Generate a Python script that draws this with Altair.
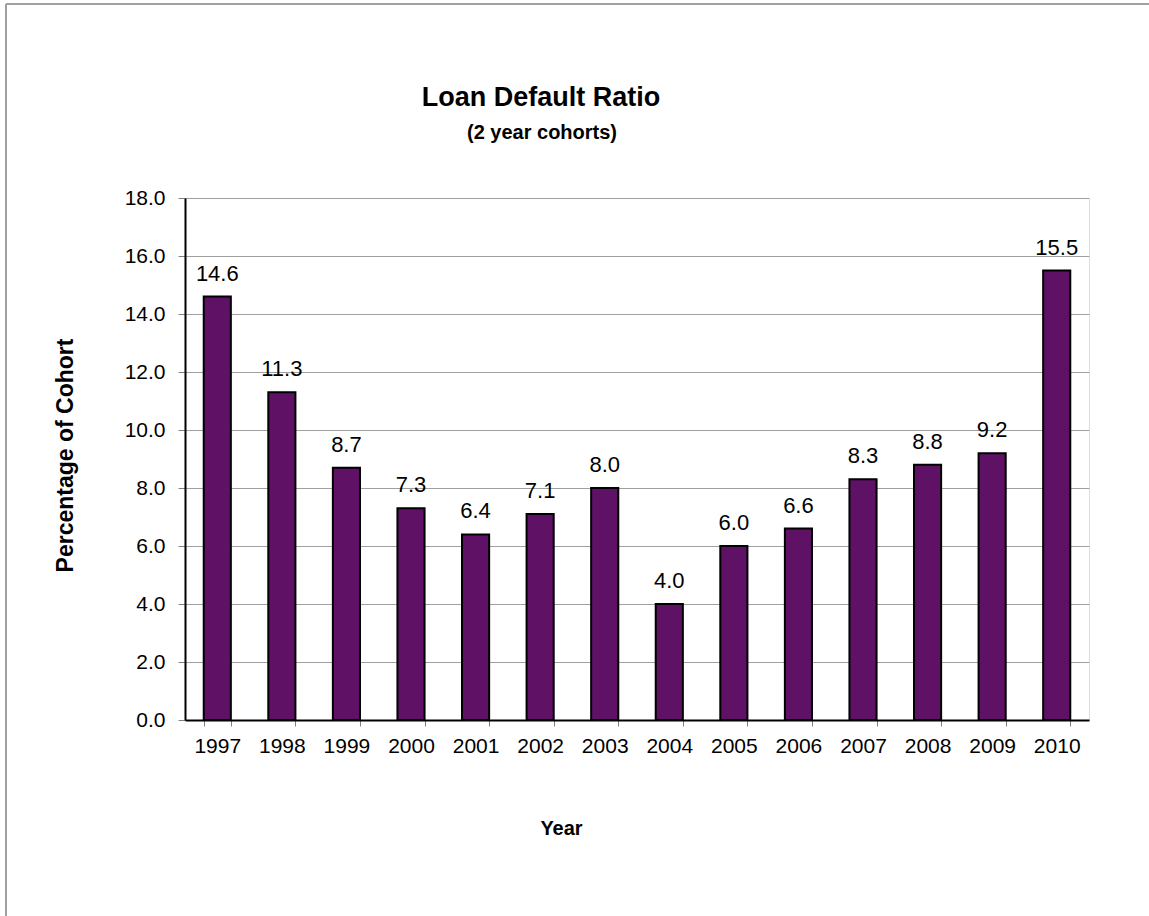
import altair as alt
import pandas as pd

# Two-year cohort default rates by year
years = ["1997", "1998", "1999", "2000", "2001", "2002", "2003",
         "2004", "2005", "2006", "2007", "2008", "2009", "2010"]
rates = [14.6, 11.3, 8.7, 7.3, 6.4, 7.1, 8.0, 4.0, 6.0, 6.6, 8.3, 8.8, 9.2, 15.5]
y_ticks = [0, 2, 4, 6, 8, 10, 12, 14, 16, 18]

title_text = "Loan Default Ratio"
subtitle_text = "(2 year cohorts)"

df = pd.DataFrame({"Year": years, "Rate": rates})
heading = pd.DataFrame({"text": [title_text, subtitle_text], "size": ["main", "sub"]})

FONT = "Liberation Sans"
W, H = 904, 522
LEFT, TOP = 185, 198
CANVAS_W, CANVAS_H = 1149, 916

x_enc = alt.X(
    "Year:N",
    sort=years,
    scale=alt.Scale(paddingInner=0.58, paddingOuter=0.29),
    axis=alt.Axis(
        title="Year",
        titleFont=FONT, titleFontSize=20, titleFontWeight="bold", titleColor="black",
        titleX=376, titleY=108, titleBaseline="middle", titleAnchor="start", titleAlign="center",
        labelFont=FONT, labelFontSize=21, labelColor="black", labelAngle=0,
        labelPadding=9,
        tickBand="extent", tickSize=6, tickColor="#808080",
        domainColor="black", domainWidth=2, grid=False,
    ),
)

y_enc = alt.Y(
    "Rate:Q",
    scale=alt.Scale(domain=[0, 18], nice=False),
    axis=alt.Axis(
        title="Percentage of Cohort",
        titleFont=FONT, titleFontSize=23, titleFontWeight="bold", titleColor="black",
        titleX=-120, titleY=257, titleBaseline="middle", titleAlign="center",
        values=y_ticks, format=".1f",
        labelFont=FONT, labelFontSize=21, labelColor="black", labelPadding=13,
        tickSize=7, tickColor="#808080",
        domainColor="black", domainWidth=2,
        grid=True, gridColor="#a0a0a0", gridWidth=1,
    ),
)

bars = alt.Chart(df).mark_bar(
    color="#5f1166", stroke="black", strokeWidth=2
).encode(x=x_enc, y=y_enc)

labels = alt.Chart(df).mark_text(
    font=FONT, fontSize=22, color="black", baseline="alphabetic", dy=-16
).encode(
    x=alt.X("Year:N", sort=years),
    y="Rate:Q",
    text=alt.Text("Rate:Q", format=".1f"),
)

# Chart heading, centred above the plot
title_mark = alt.Chart(heading).transform_filter(
    alt.datum.size == "main"
).mark_text(
    font=FONT, fontSize=27, fontWeight="bold", color="black", align="center", baseline="alphabetic"
).encode(text="text:N", x=alt.value(541 - LEFT), y=alt.value(106 - TOP))

subtitle_mark = alt.Chart(heading).transform_filter(
    alt.datum.size == "sub"
).mark_text(
    font=FONT, fontSize=20, fontWeight="bold", color="black", align="center", baseline="alphabetic"
).encode(text="text:N", x=alt.value(542 - LEFT), y=alt.value(139 - TOP))

# Outer frame lines along the top and left of the canvas
frame_top = alt.Chart(df).mark_rule(color="#a0a0a0", strokeWidth=2).encode(
    x=alt.value(6 - LEFT), x2=alt.value(CANVAS_W - LEFT), y=alt.value(4 - TOP)
)
frame_left = alt.Chart(df).mark_rule(color="#a0a0a0", strokeWidth=2).encode(
    x=alt.value(6 - LEFT), y=alt.value(4 - TOP), y2=alt.value(CANVAS_H - TOP)
)

chart = alt.layer(bars, labels, title_mark, subtitle_mark, frame_top, frame_left).properties(
    width=W,
    height=H,
    autosize=alt.AutoSizeParams(type="none"),
    padding={"left": LEFT, "top": TOP, "right": CANVAS_W - LEFT - W, "bottom": CANVAS_H - TOP - H},
).configure_view(
    fill="#f0f0f0", stroke="#a0a0a0", strokeWidth=1
).configure(background="white")

chart.save("out.html", embed_options={"renderer": "svg", "actions": False})
